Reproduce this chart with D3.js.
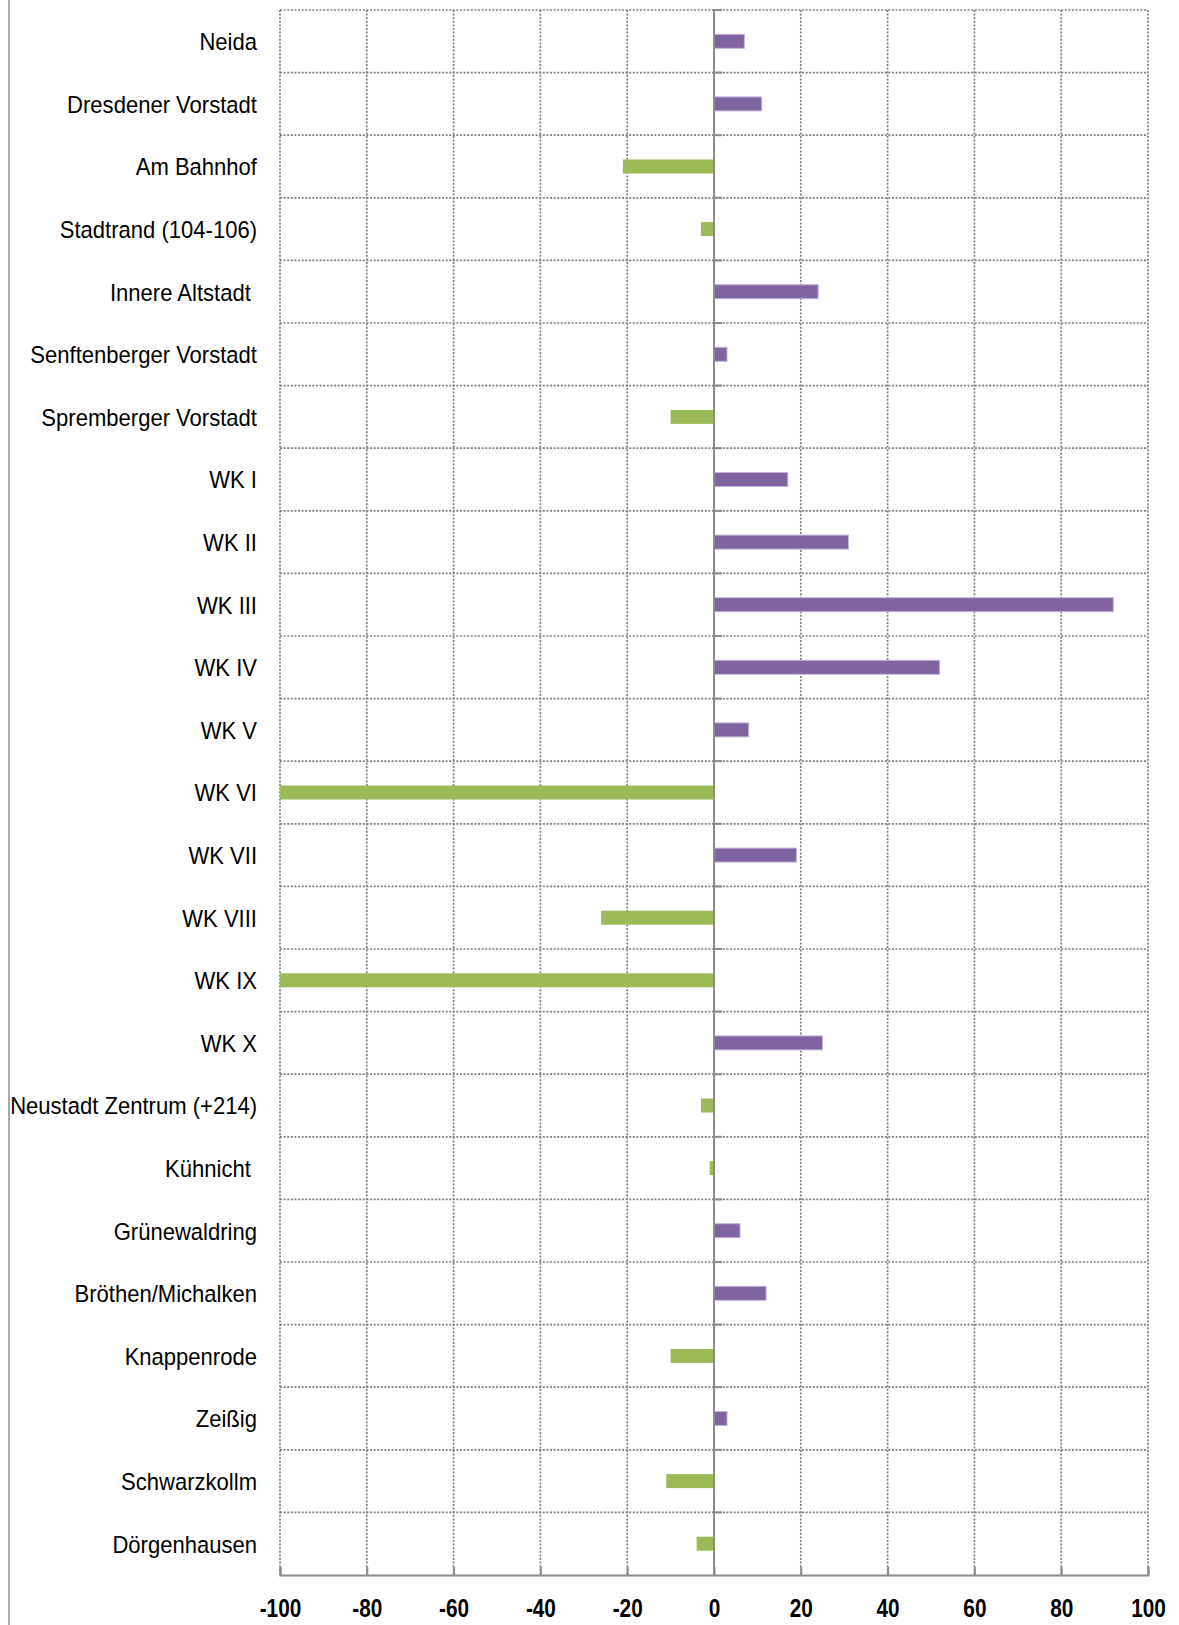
<!DOCTYPE html>
<html lang="de">
<head>
    <meta charset="UTF-8">
    <title>Stadtteile</title>
    <script src="https://d3js.org/d3.v7.min.js"></script>
    <style>
        body { margin: 0; background: #fff; }
        .cat { font-family: "Liberation Sans", Arial, sans-serif; font-size: 24.5px; white-space: pre; }
        .tick text { font-family: "Liberation Sans", Arial, sans-serif; font-size: 26px; font-weight: bold; }
    </style>
</head>
<body>
    <div class="chart"></div>
    <script>
        const categories = ['Neida', 'Dresdener Vorstadt', 'Am Bahnhof', 'Stadtrand (104-106)', 'Innere Altstadt ',
            'Senftenberger Vorstadt', 'Spremberger Vorstadt', 'WK I', 'WK II', 'WK III', 'WK IV', 'WK V', 'WK VI',
            'WK VII', 'WK VIII', 'WK IX', 'WK X', 'Neustadt Zentrum (+214)', 'Kühnicht ', 'Grünewaldring',
            'Bröthen/Michalken', 'Knappenrode', 'Zeißig', 'Schwarzkollm', 'Dörgenhausen'];
        const values = [7, 11, -21, -3, 24, 3, -10, 17, 31, 92, 52, 8, -100, 19, -26, -100, 25, -3, -1, 6, 12, -10, 3, -11, -4];
        const xTicks = [-100, -80, -60, -40, -20, 0, 20, 40, 60, 80, 100];

        const W = 1179, H = 1625;
        const pLeft = 280, pRight = 1148, pTop = 10, pBottom = 1575;

        const svg = d3.select('.chart').append('svg')
            .attr('width', W).attr('height', H);

        const x = d3.scaleLinear().domain([-100, 100]).range([pLeft, pRight]);
        const y = d3.scaleBand().domain(categories).range([pTop, pBottom]);
        const barH = 14;

        // linke Randlinie
        svg.append('line')
            .attr('x1', 9).attr('x2', 9).attr('y1', 0).attr('y2', H)
            .attr('stroke', '#8c8c8c').attr('stroke-width', 1.5);

        // Gitternetz (gepunktet)
        const grid = svg.append('g').attr('stroke', '#7f7f7f').attr('stroke-width', 1.7)
            .attr('stroke-dasharray', '2,1.6');
        grid.selectAll('.vg')
            .data(xTicks.filter(d => d !== 0))
            .enter().append('line')
            .attr('x1', d => x(d)).attr('x2', d => x(d))
            .attr('y1', pTop).attr('y2', pBottom);
        grid.selectAll('.hg')
            .data(categories)
            .enter().append('line')
            .attr('x1', pLeft).attr('x2', pRight)
            .attr('y1', d => y(d)).attr('y2', d => y(d));

        // Balken
        svg.selectAll('.bar')
            .data(values)
            .enter().append('rect')
            .attr('class', 'bar')
            .attr('x', d => x(Math.min(0, d)))
            .attr('width', d => Math.abs(x(d) - x(0)))
            .attr('y', (d, i) => y(categories[i]) + y.bandwidth() / 2 - barH / 2)
            .attr('height', barH)
            .attr('fill', d => d < 0 ? '#9bbb59' : '#8064a2')
            .attr('stroke', d => d < 0 ? 'none' : '#c4b5d8')
            .attr('stroke-width', 1);

        // Nulllinie mit Teilstrichen
        svg.append('line')
            .attr('x1', x(0)).attr('x2', x(0)).attr('y1', pTop).attr('y2', pBottom)
            .attr('stroke', '#8c8c8c').attr('stroke-width', 2);
        svg.selectAll('.ytick')
            .data(categories)
            .enter().append('line')
            .attr('x1', x(0)).attr('x2', x(0) + 8)
            .attr('y1', d => y(d)).attr('y2', d => y(d))
            .attr('stroke', '#8c8c8c').attr('stroke-width', 2);

        // x-Achse
        const xAxis = svg.append('g')
            .attr('transform', 'translate(0,' + pBottom + ')')
            .call(d3.axisBottom(x).tickValues(xTicks).tickFormat(d => String(d)).tickSize(-8).tickPadding(24));
        xAxis.select('.domain').attr('stroke', '#8c8c8c').attr('stroke-width', 2);
        xAxis.selectAll('.tick line').attr('stroke', '#8c8c8c').attr('stroke-width', 2);
        xAxis.selectAll('.tick text').attr('fill', '#000').attr('transform', 'scale(0.8,1)');

        // Kategorien
        svg.selectAll('.cat')
            .data(categories)
            .enter().append('text')
            .attr('class', 'cat')
            .attr('transform', d => 'translate(257,' + (y(d) + y.bandwidth() / 2) + ') scale(0.9,1)')
            .attr('dy', '0.36em')
            .attr('text-anchor', 'end')
            .text(d => d);
    </script>
</body>
</html>
